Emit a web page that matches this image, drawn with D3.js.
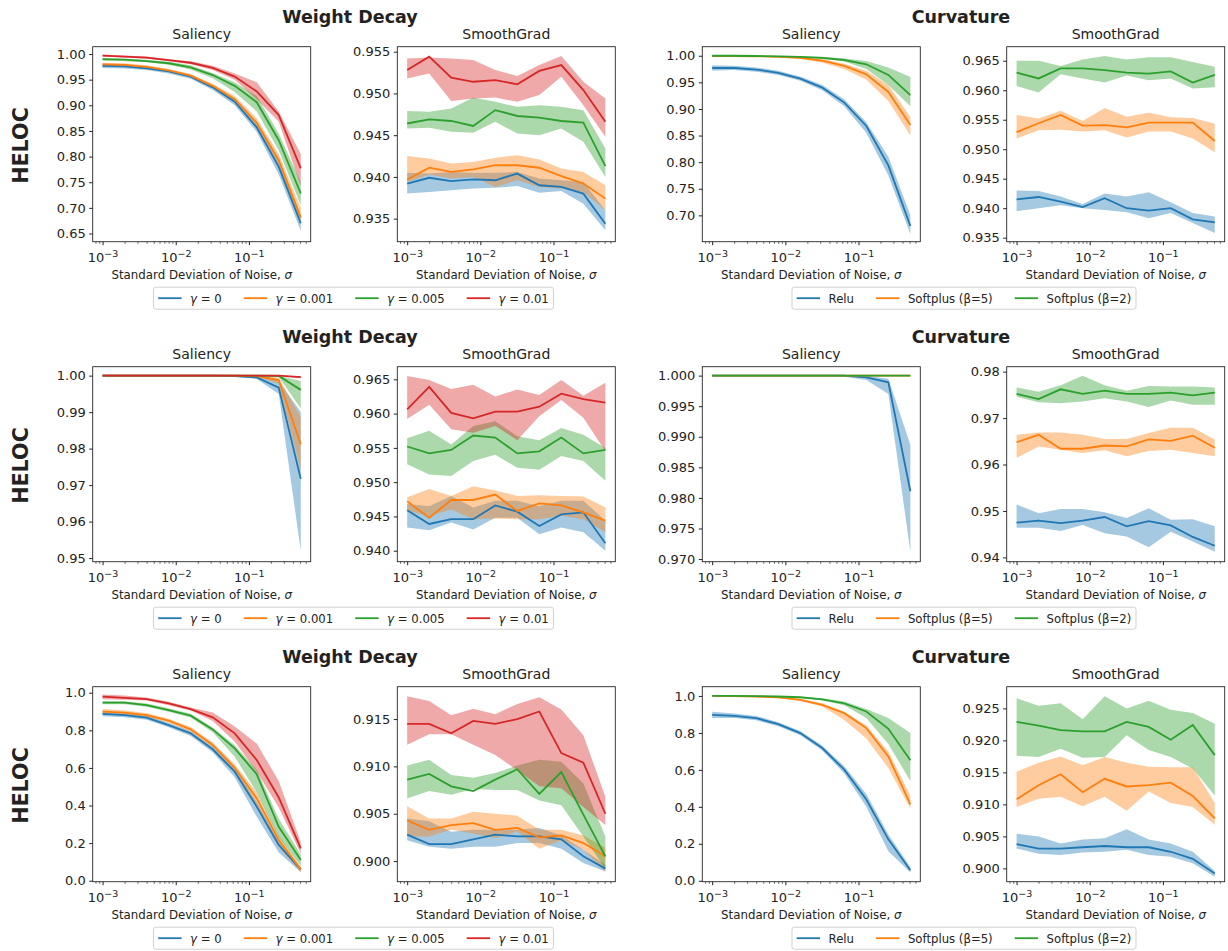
<!DOCTYPE html>
<html>
<head>
<meta charset="utf-8">
<script src="https://cdn.jsdelivr.net/npm/d3@7"></script>
<style>
  body { margin: 0; background: #fff; }
  text { font-family: "DejaVu Sans", sans-serif; fill: #222; }
</style>
</head>
<body>
<svg id="chart" width="1228" height="951"></svg>
<script>
// noise levels (x axis)
const sigma = [0.001, 0.002, 0.004, 0.008, 0.016, 0.032, 0.064, 0.128, 0.256, 0.512];

const wdGammas = ["0", "0.001", "0.005", "0.01"];
const curvNames = ["Relu", "Softplus (β=5)", "Softplus (β=2)"];
const colors = ["#1f77b4", "#ff7f0e", "#2ca02c", "#d62728"];

// ---- Weight decay / Saliency / Top-5 SA
const wdSalSA = [
  [0.977, 0.976, 0.972, 0.966, 0.956, 0.935, 0.907, 0.857, 0.780, 0.670],
  [0.980, 0.979, 0.975, 0.968, 0.958, 0.938, 0.912, 0.866, 0.793, 0.681],
  [0.990, 0.989, 0.986, 0.982, 0.974, 0.959, 0.938, 0.906, 0.832, 0.728],
  [0.997, 0.995, 0.993, 0.988, 0.983, 0.973, 0.956, 0.927, 0.881, 0.777],
];
const wdSalSALo = [
  [0.973, 0.972, 0.969, 0.962, 0.952, 0.930, 0.900, 0.848, 0.765, 0.655],
  [0.977, 0.976, 0.972, 0.965, 0.955, 0.934, 0.906, 0.858, 0.783, 0.668],
  [0.987, 0.986, 0.984, 0.979, 0.970, 0.953, 0.926, 0.888, 0.812, 0.705],
  [0.995, 0.993, 0.991, 0.986, 0.980, 0.969, 0.950, 0.912, 0.868, 0.742],
];
const wdSalSAHi = [
  [0.981, 0.979, 0.975, 0.969, 0.960, 0.939, 0.913, 0.866, 0.793, 0.685],
  [0.983, 0.982, 0.978, 0.971, 0.961, 0.942, 0.918, 0.875, 0.805, 0.700],
  [0.992, 0.991, 0.989, 0.985, 0.978, 0.963, 0.945, 0.918, 0.845, 0.750],
  [0.999, 0.997, 0.995, 0.990, 0.986, 0.977, 0.962, 0.945, 0.888, 0.805],
];

// ---- Weight decay / SmoothGrad / Top-5 SA
const wdSgSA = [
  [0.9392, 0.9399, 0.9395, 0.9397, 0.9396, 0.9404, 0.9390, 0.9388, 0.9380, 0.9344],
  [0.9397, 0.9411, 0.9406, 0.9409, 0.9414, 0.9414, 0.9411, 0.9401, 0.9392, 0.9374],
  [0.9464, 0.9469, 0.9467, 0.9461, 0.9480, 0.9473, 0.9471, 0.9467, 0.9465, 0.9413],
  [0.9528, 0.9544, 0.9519, 0.9514, 0.9516, 0.9511, 0.9527, 0.9534, 0.9504, 0.9466],
];
const wdSgSALo = [
  [0.9380, 0.9382, 0.9384, 0.9386, 0.9387, 0.9389, 0.9381, 0.9383, 0.9368, 0.9336],
  [0.9394, 0.9403, 0.9398, 0.9400, 0.9388, 0.9396, 0.9388, 0.9386, 0.9382, 0.9360],
  [0.9458, 0.9459, 0.9454, 0.9453, 0.9466, 0.9452, 0.9450, 0.9458, 0.9442, 0.9400],
  [0.9518, 0.9524, 0.9491, 0.9494, 0.9495, 0.9490, 0.9498, 0.9520, 0.9486, 0.9448],
];
const wdSgSAHi = [
  [0.9405, 0.9404, 0.9406, 0.9405, 0.9405, 0.9406, 0.9398, 0.9396, 0.9394, 0.9360],
  [0.9425, 0.9422, 0.9416, 0.9418, 0.9423, 0.9426, 0.9421, 0.9410, 0.9406, 0.9390],
  [0.9479, 0.9478, 0.9482, 0.9495, 0.9490, 0.9484, 0.9486, 0.9484, 0.9480, 0.9434],
  [0.9542, 0.9543, 0.9542, 0.9540, 0.9528, 0.9521, 0.9534, 0.9545, 0.9514, 0.9494],
];

// ---- Curvature / Saliency / Top-5 SA
const cvSalSA = [
  [0.977, 0.977, 0.974, 0.968, 0.957, 0.940, 0.912, 0.868, 0.794, 0.680],
  [0.9995, 0.9993, 0.999, 0.998, 0.996, 0.991, 0.981, 0.965, 0.932, 0.870],
  [1.0, 1.0, 0.9995, 0.999, 0.998, 0.996, 0.992, 0.984, 0.964, 0.926],
];
const cvSalSALo = [
  [0.972, 0.973, 0.970, 0.964, 0.953, 0.935, 0.905, 0.855, 0.775, 0.665],
  [0.999, 0.999, 0.998, 0.997, 0.994, 0.987, 0.975, 0.955, 0.915, 0.850],
  [0.9995, 0.9995, 0.999, 0.998, 0.997, 0.994, 0.989, 0.975, 0.945, 0.905],
];
const cvSalSAHi = [
  [0.982, 0.981, 0.978, 0.972, 0.961, 0.945, 0.918, 0.875, 0.810, 0.700],
  [1.0, 1.0, 0.9995, 0.999, 0.998, 0.994, 0.985, 0.972, 0.945, 0.885],
  [1.0, 1.0, 1.0, 0.9998, 0.999, 0.998, 0.995, 0.990, 0.978, 0.960],
];

// ---- Curvature / SmoothGrad / Top-5 SA
const cvSgSA = [
  [0.9415, 0.9419, 0.9411, 0.9402, 0.9417, 0.9400, 0.9396, 0.9400, 0.9381, 0.9376],
  [0.9529, 0.9544, 0.9558, 0.9540, 0.9541, 0.9537, 0.9545, 0.9545, 0.9545, 0.9514],
  [0.9630, 0.9620, 0.9637, 0.9637, 0.9634, 0.9630, 0.9628, 0.9632, 0.9613, 0.9626],
];
const cvSgSALo = [
  [0.9395, 0.9400, 0.9405, 0.9400, 0.9397, 0.9393, 0.9383, 0.9392, 0.9375, 0.9358],
  [0.9518, 0.9532, 0.9533, 0.9530, 0.9532, 0.9520, 0.9530, 0.9530, 0.9518, 0.9495],
  [0.9607, 0.9596, 0.9627, 0.9620, 0.9613, 0.9625, 0.9617, 0.9620, 0.9603, 0.9605],
];
const cvSgSAHi = [
  [0.9430, 0.9429, 0.9420, 0.9407, 0.9425, 0.9420, 0.9427, 0.9410, 0.9392, 0.9386],
  [0.9558, 0.9552, 0.9565, 0.9548, 0.9570, 0.9555, 0.9562, 0.9554, 0.9553, 0.9543],
  [0.9650, 0.9650, 0.9641, 0.9652, 0.9658, 0.9652, 0.9656, 0.9656, 0.9648, 0.9640],
];

// ---- Weight decay / Saliency / Top-5 CDC
const wdSalCDC = [
  [1, 1, 1, 1, 1, 1, 0.9999, 0.9995, 0.9967, 0.9717],
  [1, 1, 1, 1, 1, 1, 1, 0.9999, 0.9988, 0.9812],
  [1, 1, 1, 1, 1, 1, 1, 1, 0.9999, 0.9961],
  [1, 1, 1, 1, 1, 1, 1, 1, 1, 0.9996],
];
const wdSalCDCLo = [
  [1, 1, 1, 1, 1, 0.9999, 0.9997, 0.9991, 0.9950, 0.952],
  [1, 1, 1, 1, 1, 1, 0.9999, 0.9997, 0.9978, 0.974],
  [1, 1, 1, 1, 1, 1, 1, 0.9999, 0.9996, 0.991],
  [1, 1, 1, 1, 1, 1, 1, 1, 0.9999, 0.9993],
];
const wdSalCDCHi = [
  [1, 1, 1, 1, 1, 1, 1, 0.9999, 0.9985, 0.990],
  [1, 1, 1, 1, 1, 1, 1, 1, 0.9995, 0.9885],
  [1, 1, 1, 1, 1, 1, 1, 1, 1, 0.9985],
  [1, 1, 1, 1, 1, 1, 1, 1, 1, 0.9999],
];

// ---- Weight decay / SmoothGrad / Top-5 CDC
const wdSgCDC = [
  [0.9459, 0.9439, 0.9446, 0.9446, 0.9466, 0.9457, 0.9436, 0.9453, 0.9456, 0.9411],
  [0.9472, 0.9448, 0.9474, 0.9474, 0.9482, 0.9458, 0.9469, 0.9466, 0.9456, 0.9444],
  [0.9552, 0.9542, 0.9547, 0.9568, 0.9565, 0.9542, 0.9545, 0.9565, 0.9542, 0.9547],
  [0.9606, 0.9639, 0.9601, 0.9593, 0.9603, 0.9603, 0.9610, 0.9629, 0.9621, 0.9616],
];
const wdSgCDCLo = [
  [0.9434, 0.9430, 0.9441, 0.9431, 0.9448, 0.9448, 0.9424, 0.9434, 0.9427, 0.9400],
  [0.9458, 0.9451, 0.9460, 0.9446, 0.9447, 0.9446, 0.9446, 0.9451, 0.9446, 0.9427],
  [0.9526, 0.9511, 0.9509, 0.9531, 0.9540, 0.9521, 0.9518, 0.9538, 0.9531, 0.9502],
  [0.9592, 0.9613, 0.9577, 0.9572, 0.9582, 0.9561, 0.9596, 0.9620, 0.9594, 0.9545],
];
const wdSgCDCHi = [
  [0.9468, 0.9465, 0.9480, 0.9463, 0.9473, 0.9473, 0.9465, 0.9473, 0.9473, 0.9444],
  [0.9478, 0.9490, 0.9480, 0.9494, 0.9488, 0.9480, 0.9481, 0.9480, 0.9479, 0.9463],
  [0.9564, 0.9575, 0.9555, 0.9582, 0.9589, 0.9567, 0.9561, 0.9579, 0.9569, 0.9550],
  [0.9655, 0.9649, 0.9636, 0.9642, 0.9625, 0.9635, 0.9627, 0.9649, 0.9626, 0.9645],
];

// ---- Curvature / Saliency / Top-5 CDC
const cvSalCDC = [
  [1, 1, 1, 1, 1, 1, 1, 0.9997, 0.9989, 0.9811],
  [1, 1, 1, 1, 1, 1, 1, 1, 1, 1],
  [1, 1, 1, 1, 1, 1, 1, 1, 1, 1],
];
const cvSalCDCLo = [
  [1, 1, 1, 1, 1, 1, 0.9998, 0.9993, 0.9970, 0.9712],
  [1, 1, 1, 1, 1, 1, 1, 1, 1, 1],
  [1, 1, 1, 1, 1, 1, 1, 1, 1, 1],
];
const cvSalCDCHi = [
  [1, 1, 1, 1, 1, 1, 1, 1, 0.9995, 0.9887],
  [1, 1, 1, 1, 1, 1, 1, 1, 1, 1],
  [1, 1, 1, 1, 1, 1, 1, 1, 1, 1],
];

// ---- Curvature / SmoothGrad / Top-5 CDC
const cvSgCDC = [
  [0.9475, 0.9479, 0.9474, 0.9479, 0.9487, 0.9467, 0.9478, 0.9469, 0.9444, 0.9425],
  [0.9648, 0.9664, 0.9634, 0.9634, 0.9641, 0.9639, 0.9654, 0.9651, 0.9662, 0.9636],
  [0.9752, 0.9741, 0.9762, 0.9752, 0.9759, 0.9752, 0.9752, 0.9755, 0.9749, 0.9755],
];
const cvSgCDCLo = [
  [0.9464, 0.9464, 0.9457, 0.9470, 0.9452, 0.9445, 0.9422, 0.9455, 0.9434, 0.9412],
  [0.9614, 0.9639, 0.9632, 0.9625, 0.9631, 0.9618, 0.9629, 0.9632, 0.9625, 0.9618],
  [0.9746, 0.9734, 0.9732, 0.9736, 0.9743, 0.9736, 0.9724, 0.9738, 0.9729, 0.9729],
];
const cvSgCDCHi = [
  [0.9514, 0.9495, 0.9504, 0.9504, 0.9497, 0.9485, 0.9506, 0.9481, 0.9482, 0.9467],
  [0.9664, 0.9669, 0.9669, 0.9664, 0.9655, 0.9655, 0.9668, 0.9679, 0.9679, 0.9654],
  [0.9766, 0.9757, 0.9771, 0.9791, 0.9771, 0.9759, 0.9769, 0.9768, 0.9768, 0.9766],
];

// ---- Weight decay / Saliency / Top-5 SSA
const wdSalSSA = [
  [0.887, 0.881, 0.867, 0.828, 0.784, 0.699, 0.580, 0.394, 0.190, 0.060],
  [0.899, 0.894, 0.881, 0.851, 0.805, 0.722, 0.601, 0.438, 0.216, 0.060],
  [0.947, 0.947, 0.934, 0.908, 0.878, 0.805, 0.704, 0.567, 0.287, 0.110],
  [0.979, 0.973, 0.966, 0.943, 0.913, 0.869, 0.784, 0.642, 0.443, 0.172],
];
const wdSalSSALo = [
  [0.875, 0.870, 0.856, 0.816, 0.770, 0.683, 0.550, 0.340, 0.150, 0.045],
  [0.885, 0.882, 0.870, 0.840, 0.793, 0.708, 0.580, 0.400, 0.180, 0.045],
  [0.938, 0.938, 0.926, 0.899, 0.868, 0.790, 0.660, 0.470, 0.230, 0.080],
  [0.965, 0.962, 0.958, 0.933, 0.905, 0.850, 0.740, 0.580, 0.390, 0.145],
];
const wdSalSSAHi = [
  [0.899, 0.892, 0.878, 0.840, 0.797, 0.714, 0.600, 0.420, 0.210, 0.070],
  [0.913, 0.906, 0.892, 0.862, 0.817, 0.736, 0.620, 0.470, 0.240, 0.075],
  [0.955, 0.955, 0.942, 0.917, 0.888, 0.815, 0.720, 0.590, 0.330, 0.140],
  [0.990, 0.985, 0.975, 0.952, 0.922, 0.895, 0.820, 0.730, 0.530, 0.205],
];

// ---- Weight decay / SmoothGrad / Top-5 SSA
const wdSgSSA = [
  [0.9028, 0.9018, 0.9018, 0.9023, 0.9028, 0.9026, 0.9026, 0.9023, 0.9005, 0.8992],
  [0.9043, 0.9033, 0.9038, 0.9040, 0.9033, 0.9035, 0.9025, 0.9027, 0.9019, 0.9005],
  [0.9086, 0.9092, 0.9079, 0.9074, 0.9086, 0.9097, 0.9071, 0.9094, 0.9049, 0.9005],
  [0.9145, 0.9145, 0.9135, 0.9148, 0.9145, 0.9150, 0.9158, 0.9114, 0.9104, 0.9050],
];
const wdSgSSALo = [
  [0.9022, 0.9015, 0.9013, 0.9015, 0.9015, 0.9019, 0.9019, 0.9013, 0.8998, 0.8989],
  [0.9026, 0.9026, 0.9033, 0.9029, 0.9024, 0.9031, 0.9013, 0.9022, 0.9012, 0.8989],
  [0.9066, 0.9074, 0.9070, 0.9076, 0.9075, 0.9075, 0.9064, 0.9059, 0.9026, 0.8992],
  [0.9123, 0.9134, 0.9134, 0.9123, 0.9112, 0.9096, 0.9079, 0.9077, 0.9057, 0.9038],
];
const wdSgSSAHi = [
  [0.9045, 0.9042, 0.9031, 0.9033, 0.9033, 0.9033, 0.9035, 0.9027, 0.9012, 0.8996],
  [0.9058, 0.9045, 0.9045, 0.9052, 0.9050, 0.9048, 0.9033, 0.9033, 0.9027, 0.9014],
  [0.9101, 0.9107, 0.9091, 0.9088, 0.9093, 0.9101, 0.9107, 0.9105, 0.9082, 0.9026],
  [0.9174, 0.9169, 0.9154, 0.9161, 0.9155, 0.9166, 0.9173, 0.9160, 0.9133, 0.9068],
];

// ---- Curvature / Saliency / Top-5 SSA
const cvSalSSA = [
  [0.898, 0.892, 0.880, 0.847, 0.799, 0.718, 0.601, 0.440, 0.224, 0.057],
  [1.0, 0.999, 0.997, 0.992, 0.979, 0.952, 0.907, 0.826, 0.673, 0.413],
  [1.0, 1.0, 0.999, 0.997, 0.993, 0.982, 0.960, 0.916, 0.822, 0.652],
];
const cvSalSSALo = [
  [0.880, 0.880, 0.868, 0.836, 0.788, 0.705, 0.580, 0.400, 0.160, 0.045],
  [0.999, 0.998, 0.995, 0.989, 0.973, 0.943, 0.870, 0.770, 0.610, 0.390],
  [0.999, 0.999, 0.998, 0.995, 0.990, 0.976, 0.950, 0.880, 0.740, 0.540],
];
const cvSalSSAHi = [
  [0.915, 0.905, 0.892, 0.858, 0.810, 0.730, 0.620, 0.470, 0.250, 0.075],
  [1.0, 1.0, 0.999, 0.995, 0.985, 0.960, 0.915, 0.840, 0.700, 0.460],
  [1.0, 1.0, 1.0, 0.999, 0.996, 0.988, 0.970, 0.930, 0.880, 0.800],
];

// ---- Curvature / SmoothGrad / Top-5 SSA
const cvSgSSA = [
  [0.9038, 0.9031, 0.9031, 0.9033, 0.9035, 0.9033, 0.9033, 0.9026, 0.9015, 0.8992],
  [0.9108, 0.9130, 0.9147, 0.9119, 0.9140, 0.9128, 0.9130, 0.9134, 0.9113, 0.9078],
  [0.9229, 0.9223, 0.9216, 0.9214, 0.9214, 0.9229, 0.9221, 0.9201, 0.9224, 0.9177],
];
const cvSgSSALo = [
  [0.9031, 0.9023, 0.9021, 0.9025, 0.9026, 0.9029, 0.9021, 0.9018, 0.9008, 0.8987],
  [0.9096, 0.9109, 0.9112, 0.9097, 0.9112, 0.9090, 0.9120, 0.9102, 0.9096, 0.9068],
  [0.9176, 0.9174, 0.9187, 0.9173, 0.9174, 0.9208, 0.9185, 0.9174, 0.9156, 0.9114],
];
const cvSgSSAHi = [
  [0.9054, 0.9050, 0.9039, 0.9045, 0.9047, 0.9061, 0.9045, 0.9039, 0.9026, 0.8996],
  [0.9151, 0.9165, 0.9175, 0.9161, 0.9174, 0.9165, 0.9159, 0.9158, 0.9158, 0.9102],
  [0.9266, 0.9254, 0.9258, 0.9233, 0.9269, 0.9250, 0.9262, 0.9248, 0.9243, 0.9226],
];

// y tick labels per panel
const ticksSalSA = [0.65, 0.70, 0.75, 0.80, 0.85, 0.90, 0.95, 1.00];
const ticksSgSA = [0.935, 0.940, 0.945, 0.950, 0.955];
const ticksCvSalSA = [0.70, 0.75, 0.80, 0.85, 0.90, 0.95, 1.00];
const ticksCvSgSA = [0.935, 0.940, 0.945, 0.950, 0.955, 0.960, 0.965];
const ticksSalCDC = [0.95, 0.96, 0.97, 0.98, 0.99, 1.00];
const ticksSgCDC = [0.940, 0.945, 0.950, 0.955, 0.960, 0.965];
const ticksCvSalCDC = [0.970, 0.975, 0.980, 0.985, 0.990, 0.995, 1.000];
const ticksCvSgCDC = [0.94, 0.95, 0.96, 0.97, 0.98];
const ticksSSA = [0.0, 0.2, 0.4, 0.6, 0.8, 1.0];
const ticksSgSSA = [0.900, 0.905, 0.910, 0.915];
const ticksCvSgSSA = [0.900, 0.905, 0.910, 0.915, 0.920, 0.925];
const xMajor = [1e-3, 1e-2, 1e-1];

// layout
const colLeft = [92.7, 397.3, 702.3, 1006.7];
const rowTop = [46.7, 366.7, 686.7];
const pw = 218, ph = 195;
const xDomain = [Math.pow(10, -3.135), Math.pow(10, -0.155)];

const panels = [
  { row: 0, col: 0, title: "Saliency", ylab: "Top-5 SA", m: wdSalSA, lo: wdSalSALo, hi: wdSalSAHi, yd: [0.634, 1.0143], ticks: ticksSalSA, fmt: ".2f" },
  { row: 0, col: 1, title: "SmoothGrad", ylab: "Top-5 SA", m: wdSgSA, lo: wdSgSALo, hi: wdSgSAHi, yd: [0.93224, 0.9556], ticks: ticksSgSA, fmt: ".3f" },
  { row: 0, col: 2, title: "Saliency", ylab: "Top-5 SA", m: cvSalSA, lo: cvSalSALo, hi: cvSalSAHi, yd: [0.6505, 1.017], ticks: ticksCvSalSA, fmt: ".2f" },
  { row: 0, col: 3, title: "SmoothGrad", ylab: "Top-5 SA", m: cvSgSA, lo: cvSgSALo, hi: cvSgSAHi, yd: [0.93432, 0.96738], ticks: ticksCvSgSA, fmt: ".3f" },
  { row: 1, col: 0, title: "Saliency", ylab: "Top-5 CDC", m: wdSalCDC, lo: wdSalCDCLo, hi: wdSalCDCHi, yd: [0.949, 1.00245], ticks: ticksSalCDC, fmt: ".2f" },
  { row: 1, col: 1, title: "SmoothGrad", ylab: "Top-5 CDC", m: wdSgCDC, lo: wdSgCDCLo, hi: wdSgCDCHi, yd: [0.9384, 0.96684], ticks: ticksSgCDC, fmt: ".3f" },
  { row: 1, col: 2, title: "Saliency", ylab: "Top-5 CDC", m: cvSalCDC, lo: cvSalCDCLo, hi: cvSalCDCHi, yd: [0.96957, 1.00146], ticks: ticksCvSalCDC, fmt: ".3f" },
  { row: 1, col: 3, title: "SmoothGrad", ylab: "Top-5 CDC", m: cvSgCDC, lo: cvSgCDCLo, hi: cvSgCDCHi, yd: [0.93907, 0.98107], ticks: ticksCvSgCDC, fmt: ".2f" },
  { row: 2, col: 0, title: "Saliency", ylab: "Top-5 SSA", m: wdSalSSA, lo: wdSalSSALo, hi: wdSalSSAHi, yd: [-0.0053, 1.032], ticks: ticksSSA, fmt: ".1f" },
  { row: 2, col: 1, title: "SmoothGrad", ylab: "Top-5 SSA", m: wdSgSSA, lo: wdSgSSALo, hi: wdSgSSAHi, yd: [0.89782, 0.91842], ticks: ticksSgSSA, fmt: ".3f" },
  { row: 2, col: 2, title: "Saliency", ylab: "Top-5 SSA", m: cvSalSSA, lo: cvSalSSALo, hi: cvSalSSAHi, yd: [-0.005, 1.05], ticks: ticksSSA, fmt: ".1f" },
  { row: 2, col: 3, title: "SmoothGrad", ylab: "Top-5 SSA", m: cvSgSSA, lo: cvSgSSALo, hi: cvSgSSAHi, yd: [0.89792, 0.92839], ticks: ticksCvSgSSA, fmt: ".3f" },
];

const svg = d3.select("#chart");
const ink = "#222";

function minorTicks() {
  const out = [];
  [1e-4, 1e-3, 1e-2, 1e-1].forEach((dec) => {
    for (let k = 2; k <= 9; k++) {
      const v = dec * k;
      if (v > xDomain[0] && v < xDomain[1]) out.push(v);
    }
  });
  return out;
}

panels.forEach(function (p, idx) {
  const L = colLeft[p.col], T = rowTop[p.row];
  const x = d3.scaleLog().domain(xDomain).range([L, L + pw]);
  const y = d3.scaleLinear().domain(p.yd).range([T + ph, T]);
  const g = svg.append("g");

  g.append("clipPath").attr("id", "clip" + idx)
    .append("rect").attr("x", L).attr("y", T).attr("width", pw).attr("height", ph);

  const plot = g.append("g").attr("clip-path", `url(#clip${idx})`);
  const area = d3.area().x((d, i) => x(sigma[i]));
  const line = d3.line().x((d, i) => x(sigma[i])).y((d) => y(d));

  // fills first (zorder 1), then lines on top
  p.m.forEach(function (series, s) {
    plot.append("path")
      .datum(series)
      .attr("d", area.y0((d, i) => y(p.lo[s][i])).y1((d, i) => y(p.hi[s][i])))
      .attr("fill", colors[s])
      .attr("fill-opacity", 0.4)
      .attr("stroke", "none");
  });
  p.m.forEach(function (series, s) {
    plot.append("path")
      .datum(series)
      .attr("d", line)
      .attr("fill", "none")
      .attr("stroke", colors[s])
      .attr("stroke-width", 1.8);
  });

  // y axis
  const yAxis = g.append("g")
    .attr("transform", `translate(${L},0)`)
    .call(d3.axisLeft(y).tickValues(p.ticks).tickFormat(d3.format(p.fmt)).tickSize(3.5).tickPadding(3.5));
  yAxis.select(".domain").remove();
  yAxis.selectAll("line").attr("stroke", ink);
  yAxis.selectAll("text").attr("font-size", "13px").attr("fill", ink)
    .style("font-family", '"DejaVu Sans", sans-serif');

  // x axis: minor then major
  const xMinor = g.append("g")
    .attr("transform", `translate(0,${T + ph})`)
    .call(d3.axisBottom(x).tickValues(minorTicks()).tickFormat("").tickSize(2));
  xMinor.select(".domain").remove();
  xMinor.selectAll("line").attr("stroke", ink).attr("stroke-width", 0.7);

  const xAxis = g.append("g")
    .attr("transform", `translate(0,${T + ph})`)
    .call(d3.axisBottom(x).tickValues(xMajor).tickFormat("").tickSize(3.5).tickPadding(3.5));
  xAxis.select(".domain").remove();
  xAxis.selectAll("line").attr("stroke", ink);
  xAxis.selectAll(".tick").append("text")
    .attr("y", 20)
    .attr("text-anchor", "middle")
    .attr("font-size", "13px")
    .attr("fill", ink)
    .style("font-family", '"DejaVu Sans", sans-serif')
    .each(function (d) {
      const t = d3.select(this);
      t.append("tspan").text("10");
      t.append("tspan").attr("dy", "-0.45em").attr("font-size", "9.5px")
        .text("−" + Math.round(-Math.log10(d)));
    });

  // frame
  g.append("rect")
    .attr("x", L).attr("y", T).attr("width", pw).attr("height", ph)
    .attr("fill", "none").attr("stroke", "#262626").attr("stroke-width", 0.9);

  // titles and labels
  g.append("text")
    .attr("x", L + pw / 2).attr("y", T - 7.5)
    .attr("text-anchor", "middle").attr("font-size", "14px")
    .text(p.title);

  g.append("text")
    .attr("x", L + pw / 2).attr("y", T + ph + 37)
    .attr("text-anchor", "middle").attr("font-size", "11.8px")
    .call((t) => {
      t.append("tspan").text("Standard Deviation of Noise, ");
      t.append("tspan").attr("font-style", "italic").text("σ");
    });

  const bb = yAxis.node().getBBox();
  const lx = bb.x - 8.5, ly = T + ph / 2;
  g.append("text")
    .attr("x", lx).attr("y", ly)
    .attr("transform", `rotate(-90,${lx},${ly})`)
    .attr("text-anchor", "middle").attr("font-size", "11.8px")
    .text(p.ylab);
});

// group titles and row labels
rowTop.forEach(function (T) {
  svg.append("text").attr("x", 350).attr("y", T - 24)
    .attr("text-anchor", "middle").attr("font-size", "17.5px").attr("font-weight", "bold")
    .attr("fill", "#000").text("Weight Decay");
  svg.append("text").attr("x", 961).attr("y", T - 24)
    .attr("text-anchor", "middle").attr("font-size", "17.5px").attr("font-weight", "bold")
    .attr("fill", "#000").text("Curvature");
  const hx = 28, hy = T + 98.8;
  svg.append("text")
    .attr("x", hx).attr("y", hy)
    .attr("transform", `rotate(-90,${hx},${hy})`)
    .attr("text-anchor", "middle")
    .attr("font-size", "20.7px").attr("font-weight", "bold")
    .attr("fill", "#000").text("HELOC");
});

// legends
function legend(cx, top, labels, isGamma) {
  const fs = 11.7;
  const pad = 4.7, handle = 23.4, hpad = 8.5, colsp = 22;
  const g = svg.append("g");
  const box = g.append("rect");
  const items = labels.map(function (lab, i) {
    const t = g.append("text").attr("font-size", fs + "px").attr("y", top + 15.3);
    if (isGamma) {
      t.append("tspan").attr("font-style", "italic").text("γ");
      t.append("tspan").text(" = " + lab);
    } else {
      t.text(lab);
    }
    return { t: t, w: t.node().getComputedTextLength(), c: colors[i] };
  });
  const total = 2 * pad + d3.sum(items, (d) => handle + hpad + d.w) + (items.length - 1) * colsp;
  let xx = cx - total / 2 + pad;
  items.forEach(function (it) {
    g.append("line")
      .attr("x1", xx).attr("x2", xx + handle)
      .attr("y1", top + 11).attr("y2", top + 11)
      .attr("stroke", it.c).attr("stroke-width", 1.8);
    it.t.attr("x", xx + handle + hpad);
    xx += handle + hpad + it.w + colsp;
  });
  box.attr("x", cx - total / 2).attr("y", top).attr("width", total).attr("height", 22)
    .attr("rx", 2.5).attr("fill", "#fff").attr("fill-opacity", 0.8)
    .attr("stroke", "#cccccc").attr("stroke-width", 0.9);
}

rowTop.forEach(function (T) {
  legend(353.5, T + ph + 45.5, wdGammas, true);
  legend(964, T + ph + 45.5, curvNames, false);
});
</script>
</body>
</html>
